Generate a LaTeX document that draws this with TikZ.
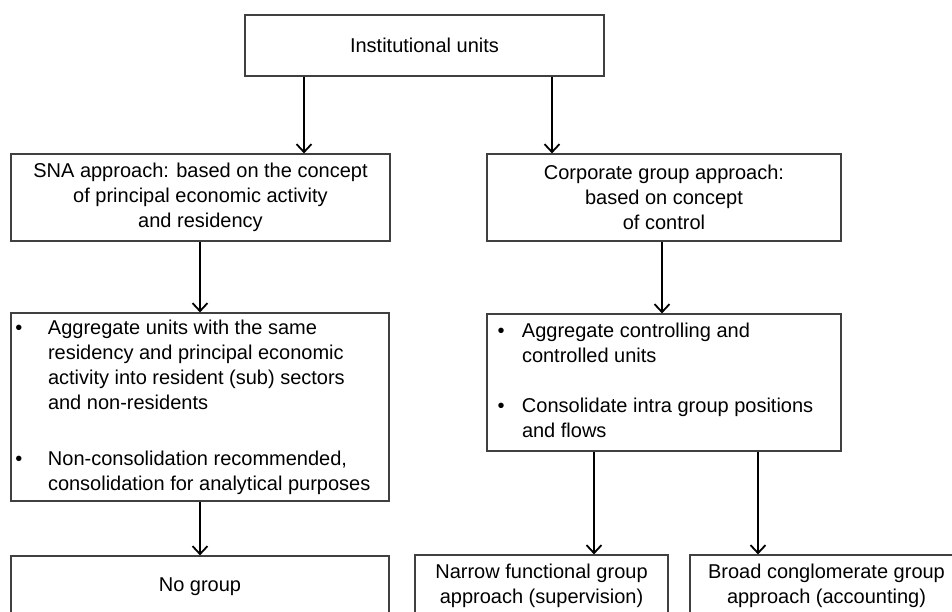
\documentclass[tikz,border=0pt]{standalone}
\usepackage{fontspec}
\setmainfont{Liberation Sans}
\usetikzlibrary{arrows.meta}
\begin{document}
\begin{tikzpicture}[x=1pt,y=-1pt,
  box/.style={draw=black!75, line width=1.2pt, rectangle, inner sep=0pt, font=\fontsize{20}{25}\selectfont},
  cbox/.style={box, align=center},
  conn/.style={line width=1.8pt, -{Straight Barb[length=8pt,width=15pt,line width=1.8pt]}}]
\useasboundingbox (0,0) rectangle (952,611);
\fill[white] (0,0) rectangle (952,611);
\clip (0,0) rectangle (952,611);

\node[cbox, minimum width=359pt, minimum height=61pt] (top) at (424.5,45.5) {Institutional units};

\node[cbox, minimum width=379pt, minimum height=87pt] (sna) at (200.5,197.5)
  {SNA approach: based on the concept\\of principal economic activity\\and residency};
\node[cbox, minimum width=354pt, minimum height=87pt] (corp) at (664,197.5)
  {Corporate group approach:\\based on concept\\of control};

\node[box, minimum width=378pt, minimum height=188pt] (sagg) at (200,407)
  {\makebox[378pt][l]{\hspace*{4.5pt}\begin{tabular}{@{}l@{}l@{}}
   \makebox[32.5pt][l]{\textbullet} & Aggregate units with the same\\
   & residency and principal economic\\
   & activity into resident (sub) sectors\\
   & and non-residents\\[31pt]
   \textbullet & Non-consolidation recommended,\\
   & consolidation for analytical purposes
   \end{tabular}}};

\node[box, minimum width=354pt, minimum height=137pt] (cagg) at (664,382.5)
  {\makebox[354pt][l]{\hspace*{10.5pt}\begin{tabular}{@{}l@{}l@{}}
   \makebox[24.5pt][l]{\textbullet} & Aggregate controlling and\\
   & controlled units\\[25pt]
   \textbullet & Consolidate intra group positions\\
   & and flows
   \end{tabular}}};

\node[cbox, minimum width=378pt, minimum height=62pt] (nogroup) at (200,587) {No group};
\node[cbox, minimum width=253pt, minimum height=61pt] (narrow) at (541.5,585.5)
  {Narrow functional group\\approach (supervision)};
\node[cbox, minimum width=273pt, minimum height=61pt] (broad) at (826.5,585.5)
  {Broad conglomerate group\\approach (accounting)};

\coordinate (c1) at (304,0);
\coordinate (c2) at (552,0);
\coordinate (c3) at (200,0);
\coordinate (c4) at (662,0);
\coordinate (c5) at (594,0);
\coordinate (c6) at (758,0);

\draw[conn] (top.south -| c1) -- (sna.north -| c1);
\draw[conn] (top.south -| c2) -- (corp.north -| c2);
\draw[conn] (sna.south -| c3) -- (sagg.north -| c3);
\draw[conn] (corp.south -| c4) -- (cagg.north -| c4);
\draw[conn] (sagg.south -| c3) -- (nogroup.north -| c3);
\draw[conn] (cagg.south -| c5) -- (narrow.north -| c5);
\draw[conn] (cagg.south -| c6) -- (broad.north -| c6);
\end{tikzpicture}
\end{document}
